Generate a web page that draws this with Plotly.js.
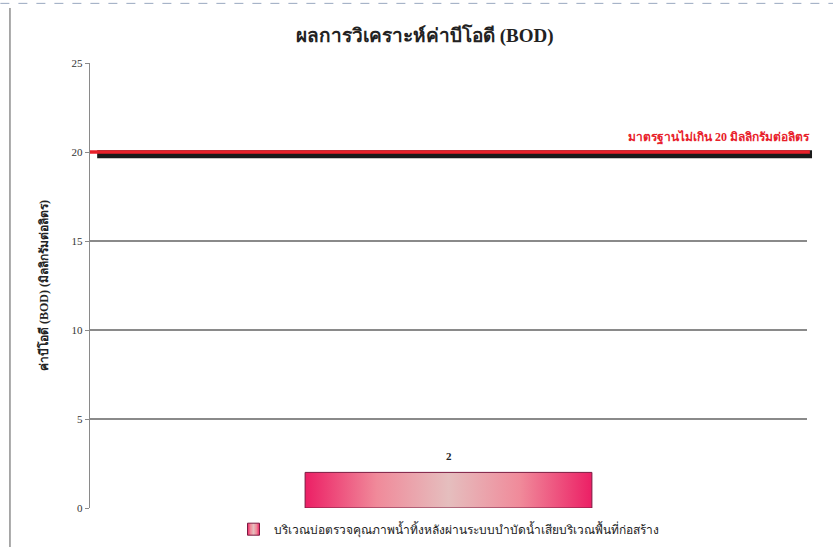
<!DOCTYPE html>
<html><head><meta charset="utf-8">
<script src="https://cdn.plot.ly/plotly-3.0.1.min.js"></script>
<style>html,body{margin:0;padding:0;background:#fff;}#chart{width:833px;height:547px;}</style>
</head><body><div id="chart"></div>
<script>
const categories = ["บริเวณบ่อตรวจคุณภาพน้ำทิ้งหลังผ่านระบบบำบัดน้ำเสียบริเวณพื้นที่ก่อสร้าง"];
const bodValues = [2];
const standardValue = 20;
const standardLabel = "มาตรฐานไม่เกิน 20 มิลลิกรัมต่อลิตร";
const yTicks = [0, 5, 10, 15, 20, 25];

const FONT = "Liberation Serif, DejaVu Serif, Noto Sans, serif";

const trace = {
  type: "bar",
  x: categories,
  y: bodValues,
  name: categories[0],
  width: 0.4,
  marker: {color: "#eaa0b0", line: {color: "#7a1a40", width: 1}},
  hoverinfo: "none"
};

const layout = {
  width: 833, height: 547,
  margin: {l: 90, r: 26, t: 63, b: 39, autoexpand: false},
  paper_bgcolor: "#ffffff", plot_bgcolor: "#ffffff",
  font: {family: FONT, color: "#222"},
  title: {text: "<b>ผลการวิเคราะห์ค่าบีโอดี (BOD)</b>", font: {family: FONT, size: 19, color: "#222"}, x: 0.51, xanchor: "center", y: 0.935, yanchor: "middle"},
  showlegend: true,
  legend: {orientation: "h", x: 0.5, xanchor: "center", y: -0.015, yanchor: "top", font: {family: FONT, size: 12, color: "#222"}},
  xaxis: {showticklabels: false, showgrid: false, zeroline: false, showline: false, ticks: ""},
  yaxis: {
    range: [0, 25], tickvals: yTicks, ticktext: yTicks.map(String),
    showgrid: true, gridcolor: "#8a8a8a", gridwidth: 1.3,
    zeroline: false, showline: true, linecolor: "#8a8a8a", linewidth: 1.3,
    ticks: "outside", ticklen: 4, tickcolor: "#8a8a8a",
    tickfont: {family: FONT, size: 11, color: "#333"},
    title: {text: "<b>ค่าบีโอดี (BOD) (มิลลิกรัมต่อลิตร)</b>", font: {family: FONT, size: 12, color: "#222"}, standoff: 20}
  },
  shapes: [
    {type: "line", xref: "paper", yref: "y", x0: 0.01, x1: 1.007, y0: standardValue - 0.12, y1: standardValue - 0.12, line: {color: "#1a1a1a", width: 8}},
    {type: "line", xref: "paper", yref: "y", x0: 0, x1: 1.004, y0: standardValue, y1: standardValue, line: {color: "#e8202a", width: 3.5}},
    {type: "line", xref: "paper", yref: "paper", x0: -0.1116, x1: -0.1116, y0: 1.1236, y1: -0.09, line: {color: "#555", width: 1}},
    {type: "line", xref: "paper", yref: "paper", x0: -0.125, x1: 1.04, y0: 1.134, y1: 1.134, line: {color: "#9aa8c0", width: 1, dash: "dash"}}
  ],
  annotations: [
    {xref: "paper", yref: "y", x: 1.007, y: standardValue, xanchor: "right", yanchor: "bottom", yshift: 5, showarrow: false,
     text: "<b>" + standardLabel + "</b>", font: {family: FONT, size: 12, color: "#e8202a"}},
    {x: categories[0], y: bodValues[0], yanchor: "bottom", yshift: 8, showarrow: false,
     text: "<b>" + bodValues[0] + "</b>", font: {family: FONT, size: 11, color: "#222"}}
  ]
};

Plotly.newPlot("chart", [trace], layout, {displayModeBar: false, staticPlot: true}).then(function (gd) {
  const svg = gd.querySelector(".main-svg");
  const ns = "http://www.w3.org/2000/svg";
  let defs = svg.querySelector("defs");
  if (!defs) { defs = document.createElementNS(ns, "defs"); svg.insertBefore(defs, svg.firstChild); }
  const grad = document.createElementNS(ns, "linearGradient");
  grad.setAttribute("id", "barGrad");
  grad.setAttribute("x1", "0"); grad.setAttribute("x2", "1"); grad.setAttribute("y1", "0"); grad.setAttribute("y2", "0");
  [["0", "#ec1f65"], ["0.25", "#f08a9a"], ["0.5", "#e5bebe"], ["0.75", "#f08a9a"], ["1", "#ec1f65"]].forEach(function (s) {
    const st = document.createElementNS(ns, "stop");
    st.setAttribute("offset", s[0]); st.setAttribute("stop-color", s[1]);
    grad.appendChild(st);
  });
  defs.appendChild(grad);
  gd.querySelectorAll(".barlayer .point path").forEach(function (p) { p.style.fill = "url(#barGrad)"; });
  gd.querySelectorAll(".legend .legendpoints path").forEach(function (p) { p.style.fill = "url(#barGrad)"; });
});
</script>
</body></html>
